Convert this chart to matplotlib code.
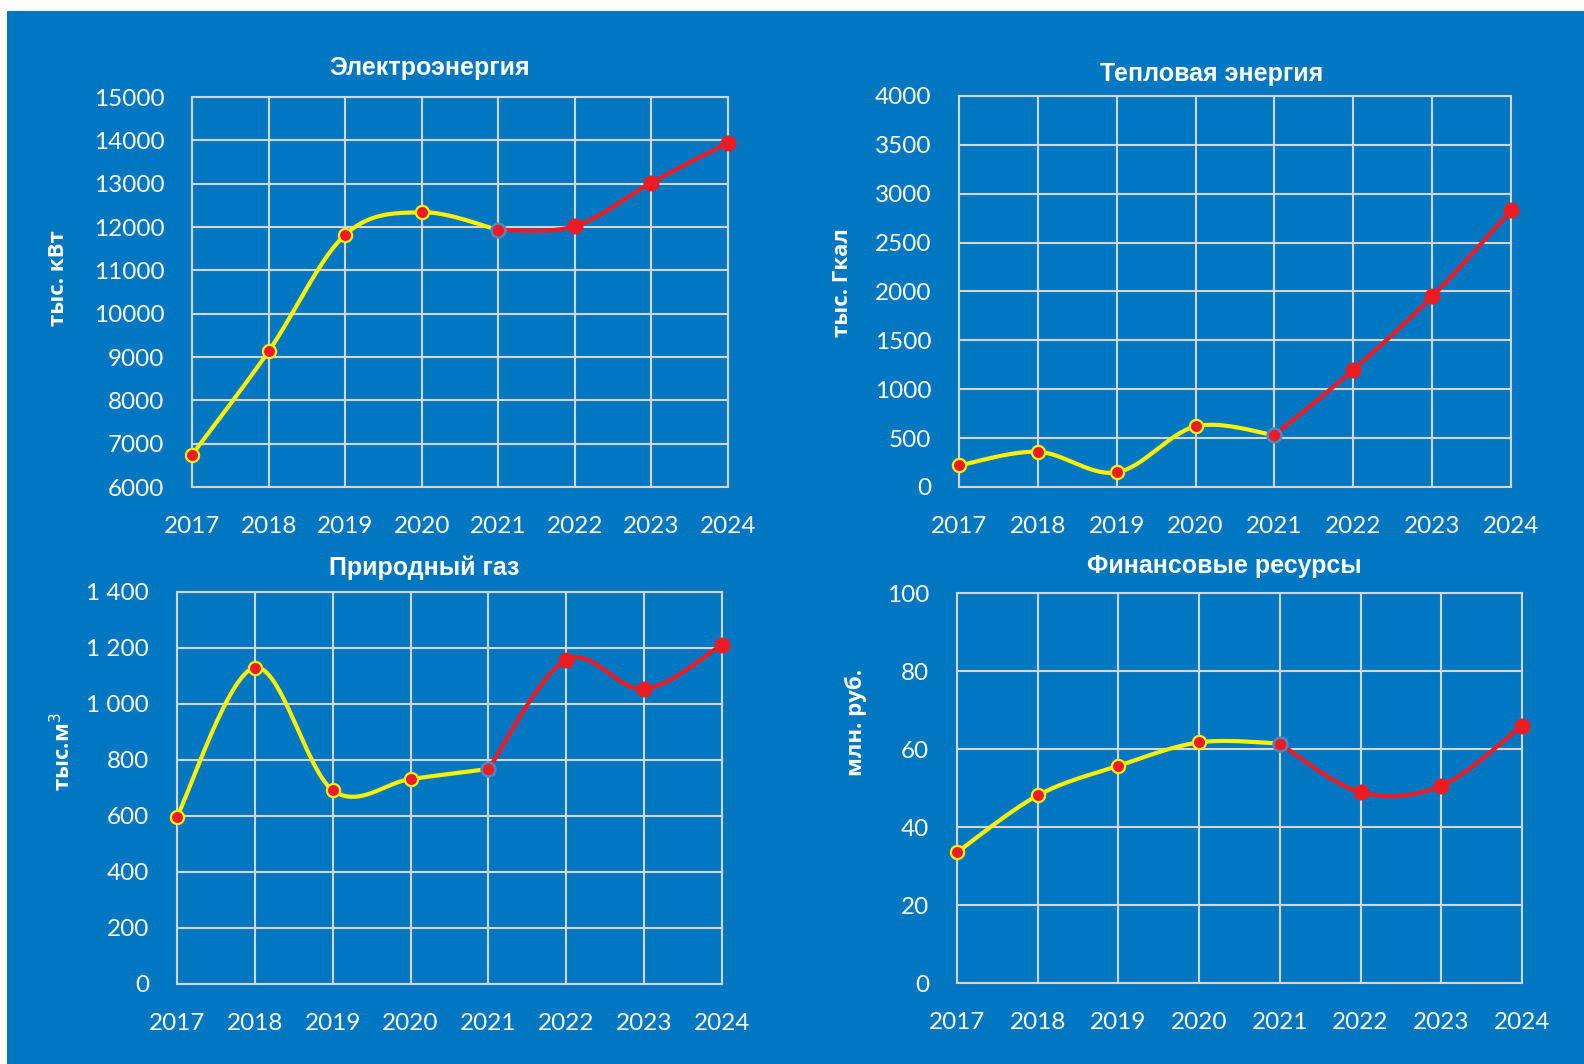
import numpy as np
import matplotlib
matplotlib.use("Agg")
import matplotlib.pyplot as plt
from matplotlib.patches import Rectangle
from matplotlib.ticker import FuncFormatter

years = [2017, 2018, 2019, 2020, 2021, 2022, 2023, 2024]

electro = [6740, 9130, 11820, 12340, 11930, 12020, 13020, 13950]
heat = [220, 360, 150, 620, 530, 1200, 1950, 2830]
gas = [598, 1130, 692, 732, 768, 1158, 1053, 1212]
finance = [33.5, 48.1, 55.7, 61.7, 61.4, 48.9, 50.6, 66.0]

titles = ["Электроэнергия", "Тепловая энергия", "Природный газ", "Финансовые ресурсы"]
ylabels = ["тыс. кВт", "тыс. Гкал", "тыс.м$^3$", "млн. руб."]
ylims = [(6000, 15000), (0, 4000), (0, 1400), (0, 100)]
ysteps = [1000, 500, 200, 20]

W, H = 1584, 1064
BLUE = "#0077C0"
GRID = "#D4D4D4"
YELLOW = "#FFF100"
RED = "#ED1C24"

# axes boxes in pixels: left, top, right, bottom
boxes = [(192, 97, 728, 487), (959, 96, 1511, 487),
         (177, 592, 722, 984), (957, 593, 1522, 983)]
title_pos = [(430, 68), (1212, 74), (424, 568), (1224, 566)]
ylabel_pos = [(58, 278), (843, 283), (63, 752), (856, 722)]


def smooth(x, y, n=40):
    """Excel-like smoothed line (Bezier through the points)."""
    pts = np.column_stack([x, y]).astype(float)
    out = []
    for i in range(len(pts) - 1):
        p0 = pts[max(i - 1, 0)]
        p1 = pts[i]
        p2 = pts[i + 1]
        p3 = pts[min(i + 2, len(pts) - 1)]
        c1 = p1 + (p2 - p0) / 6
        c2 = p2 - (p3 - p1) / 6
        t = np.linspace(0, 1, n)[:, None]
        seg = (1 - t) ** 3 * p1 + 3 * (1 - t) ** 2 * t * c1 + 3 * (1 - t) * t ** 2 * c2 + t ** 3 * p2
        out.append(seg if i == 0 else seg[1:])
    s = np.vstack(out)
    return s[:, 0], s[:, 1]


def space_fmt(v, pos):
    return f"{int(v):,}".replace(",", " ")


fig = plt.figure(figsize=(W / 100, H / 100), dpi=100, facecolor="white")
fig.patches.append(Rectangle((7 / W, 0), 1 - 7 / W, 1 - 11 / H,
                             transform=fig.transFigure, facecolor=BLUE,
                             edgecolor="none", zorder=-10))

series = [electro, heat, gas, finance]
for k in range(4):
    l, t, r, b = boxes[k]
    ax = fig.add_axes([l / W, 1 - b / H, (r - l) / W, (b - t) / H])
    ax.set_facecolor("none")
    vals = series[k]

    xs, ys = smooth(years[:5], vals[:5])
    ax.plot(xs, ys, color=YELLOW, lw=3, clip_on=False, zorder=3)
    xs, ys = smooth(years[4:], vals[4:])
    ax.plot(xs, ys, color=RED, lw=3, clip_on=False, zorder=3)

    ax.plot(years[:4], vals[:4], "o", ms=9.5, mfc=RED, mec=YELLOW, mew=1.6,
            ls="none", clip_on=False, zorder=4)
    ax.plot(years[4], vals[4], "o", ms=10, mfc=RED, mec="#4F86BE", mew=1.8,
            ls="none", clip_on=False, zorder=4)
    ax.plot(years[5:], vals[5:], "o", ms=10.5, mfc=RED, mec=RED,
            ls="none", clip_on=False, zorder=4)

    lo, hi = ylims[k]
    ax.set_xlim(years[0], years[-1])
    ax.set_ylim(lo, hi)
    ax.set_xticks(years)
    ax.set_yticks(np.arange(lo, hi + ysteps[k] / 2, ysteps[k]))
    if k == 2:
        ax.yaxis.set_major_formatter(FuncFormatter(space_fmt))
    ax.grid(True, color=GRID, lw=1.5)
    ax.set_axisbelow(True)
    for sp in ax.spines.values():
        sp.set_color(GRID)
        sp.set_linewidth(1.5)
    ax.tick_params(length=0, colors="white", labelsize=17.5)
    ax.tick_params(axis="y", pad=20)
    ax.tick_params(axis="x", pad=21)
    for lab in ax.get_xticklabels() + ax.get_yticklabels():
        lab.set_family(["Lato", "DejaVu Sans"])

    tx, ty = title_pos[k]
    fig.text(tx / W, 1 - ty / H, titles[k], color="white", fontsize=18,
             fontweight="bold", ha="center", va="center",
             family=["Liberation Sans Narrow", "Liberation Sans", "DejaVu Sans"])
    lx, ly = ylabel_pos[k]
    fig.text(lx / W, 1 - ly / H, ylabels[k], color="white", fontsize=16,
             fontweight="bold", ha="center", va="center", rotation=90,
             family=["Open Sans", "DejaVu Sans"])

fig.savefig("out.png", dpi=100, facecolor="white")
